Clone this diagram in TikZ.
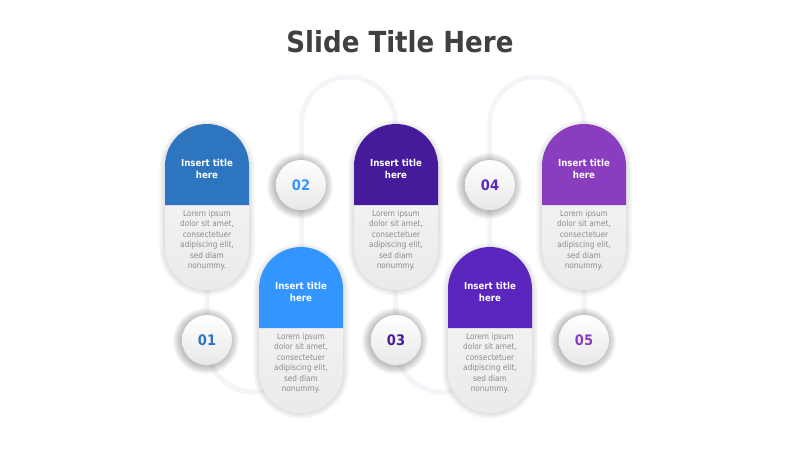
\documentclass[tikz,border=0pt]{standalone}
\usepackage{fontspec}
\setmainfont{DejaVu Sans Condensed}
\usetikzlibrary{positioning}
\usepackage{xcolor}

\definecolor{titlegray}{HTML}{404040}
\definecolor{loremgray}{HTML}{8C8C8C}
\definecolor{trackgray}{HTML}{F4F5F8}
\definecolor{stepA}{HTML}{2E75C0}
\definecolor{stepB}{HTML}{3395FF}
\definecolor{stepC}{HTML}{461B9B}
\definecolor{stepD}{HTML}{5A26BD}
\definecolor{stepE}{HTML}{8A3DBE}

\tikzset{
    track/.style={line width=5pt, trackgray, line cap=round},
    pilltitle/.style={text=white, font=\bfseries\fontsize{9.6}{12}\selectfont, align=center},
    pilltext/.style={text=loremgray, font=\fontsize{8.2}{10.5}\selectfont, align=center},
    numcircle/.style={circle, minimum size=50pt, inner sep=0pt,
        top color=white, bottom color=black!9, font=\bfseries\fontsize{14.5}{14.5}\selectfont}
}

\begin{document}
\begin{tikzpicture}[x=1pt,y=-1pt]
        \useasboundingbox[fill=white] (0,0) rectangle (800,450);

        % Title
        \node[text=titlegray, font=\bfseries\fontsize{29}{32}\selectfont] (title) at (400,42) {Slide Title Here};

        % Winding track behind the steps
        \draw[track] (207,200) -- (207,345)
            arc[start angle=180, end angle=0, radius=47.125] -- (301.25,124)
            arc[start angle=180, end angle=360, radius=47.125] -- (395.5,345)
            arc[start angle=180, end angle=0, radius=47.125] -- (489.75,124)
            arc[start angle=180, end angle=360, radius=47.125] -- (584,339);

        % Steps: pill with title and text, number circle
        \foreach \i/\cx/\ty/\ny/\col in {1/207/124/340/stepA, 2/301/247/185/stepB, 3/396/124/340/stepC, 4/490/247/185/stepD, 5/584/124/340/stepE} {
            % soft shadow of the pill
            \foreach \k [evaluate=\k as \r using 42+\k] in {1,...,6} {
                \fill[black, opacity=0.018] (\cx-\r,\ty+44) arc[start angle=180, end angle=360, radius=\r]
                    -- (\cx+\r,\ty+124) arc[start angle=0, end angle=180, radius=\r] -- cycle;
            }
            % pill body and coloured cap
            \shade[top color=black!3, bottom color=black!8] (\cx-42,\ty+42) arc[start angle=180, end angle=360, radius=42]
                -- (\cx+42,\ty+124) arc[start angle=0, end angle=180, radius=42] -- cycle;
            \fill[\col] (\cx-42,\ty+42) arc[start angle=180, end angle=360, radius=42]
                -- (\cx+42,\ty+81) -- (\cx-42,\ty+81) -- cycle;
            \node[pilltitle] (title\i) at (\cx,\ty+45) {Insert title\\here};
            \node[pilltext] (text\i) at (\cx,\ty+116) {Lorem ipsum\\dolor sit amet,\\consectetuer\\adipiscing elit,\\sed diam\\nonummy.};

            % shadow of the number circle
            \foreach \k in {1,...,8} {
                \fill[black, opacity=0.03] (\cx-1,\ny+1) circle (25+\k);
            }
            \node[numcircle, text=\col] (num\i) at (\cx,\ny) {0\i};
        }
    \end{tikzpicture}
\end{document}
